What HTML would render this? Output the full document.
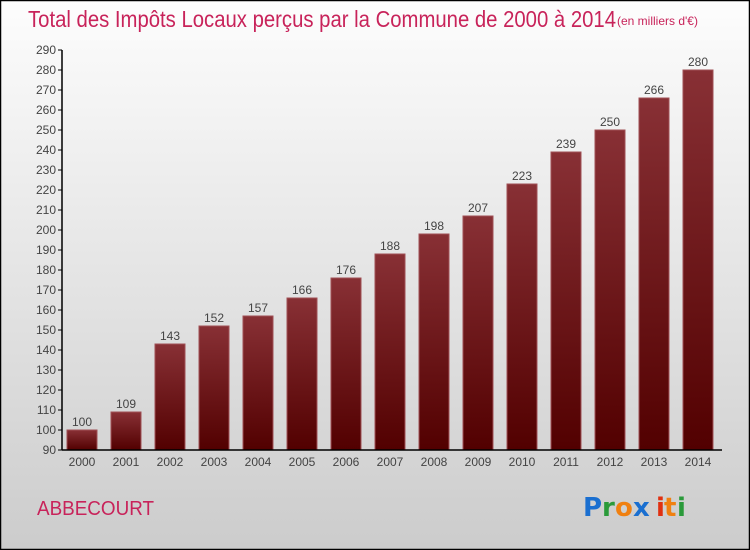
<!DOCTYPE html>
<html><head><meta charset="utf-8"><style>
body{margin:0;width:750px;height:550px;overflow:hidden;font-family:"Liberation Sans",sans-serif}
svg{display:block}
</style></head><body>
<svg id="c" width="750" height="550" xmlns="http://www.w3.org/2000/svg">
<defs>
<linearGradient id="bg" x1="0" y1="0" x2="0" y2="1"><stop offset="0" stop-color="#fdfdfd"/><stop offset="1" stop-color="#cccccc"/></linearGradient>
<linearGradient id="bar" x1="0" y1="0" x2="0" y2="1"><stop offset="0" stop-color="#883035"/><stop offset="1" stop-color="#520000"/></linearGradient>
</defs>
<rect x="0.5" y="0.5" width="749" height="549" fill="url(#bg)" stroke="#000" stroke-width="1.5"/>
<text x="28" y="27" font-size="23" fill="#c8235a" textLength="588" lengthAdjust="spacingAndGlyphs">Total des Impôts Locaux perçus par la Commune de 2000 à 2014</text>
<text x="617" y="25" font-size="12" fill="#c8235a">(en milliers d'€)</text>
<text x="37" y="515" font-size="20" fill="#c8235a" textLength="117" lengthAdjust="spacingAndGlyphs">ABBECOURT</text>
<g font-size="26" font-weight="bold" font-family="'DejaVu Sans',sans-serif">
<text x="583" y="516" fill="#1a6fd0">P</text><text x="602" y="516" fill="#2a9a3a">r</text><text x="615" y="516" fill="#f08010">o</text><text x="633" y="516" fill="#1a6fd0">x</text><text x="656" y="516" fill="#e03010">i</text><text x="664" y="516" fill="#f08010">t</text><text x="677" y="516" fill="#2a9a3a">i</text>
</g>
<g id="plot"></g>
</svg>
<script>
const years=["2000","2001","2002","2003","2004","2005","2006","2007","2008","2009","2010","2011","2012","2013","2014"];
const values=[100,109,143,152,157,166,176,188,198,207,223,239,250,266,280];
const yTicks=[90,100,110,120,130,140,150,160,170,180,190,200,210,220,230,240,250,260,270,280,290];
const NS="http://www.w3.org/2000/svg";
const g=document.getElementById('plot');
const y=v=>450-(v-90)*2;
const x=i=>82+i*44;
function mk(t,a,txt){const e=document.createElementNS(NS,t);for(const k in a)e.setAttribute(k,a[k]);if(txt!==undefined)e.textContent=txt;g.appendChild(e);return e;}
yTicks.forEach(v=>{
 const l=mk('line',{x1:58,x2:62,y1:y(v),y2:y(v),stroke:'#000'});
 
 
 const t=mk('text',{x:56,y:y(v)+4,'text-anchor':'end','font-size':12,fill:'#444'},v);
 
 
});
values.forEach((v,i)=>{
 const r=mk('rect',{x:x(i)-15,y:y(v),width:30,height:450-y(v),fill:'url(#bar)',stroke:'#a05055','stroke-width':1});
 
 
 const t=mk('text',{x:x(i),y:y(v)-4,'text-anchor':'middle','font-size':12,fill:'#444'},v);
 
 
 const xl=mk('text',{x:x(i),y:466,'text-anchor':'middle','font-size':12,fill:'#444'},years[i]);
 
 
});
const ya=mk('line',{x1:62,x2:62,y1:y(290),y2:450,stroke:'#000','stroke-width':1.5});


const xa=mk('line',{x1:62,x2:722,y1:450,y2:450,stroke:'#000','stroke-width':1.5});


</script>
</body></html>
